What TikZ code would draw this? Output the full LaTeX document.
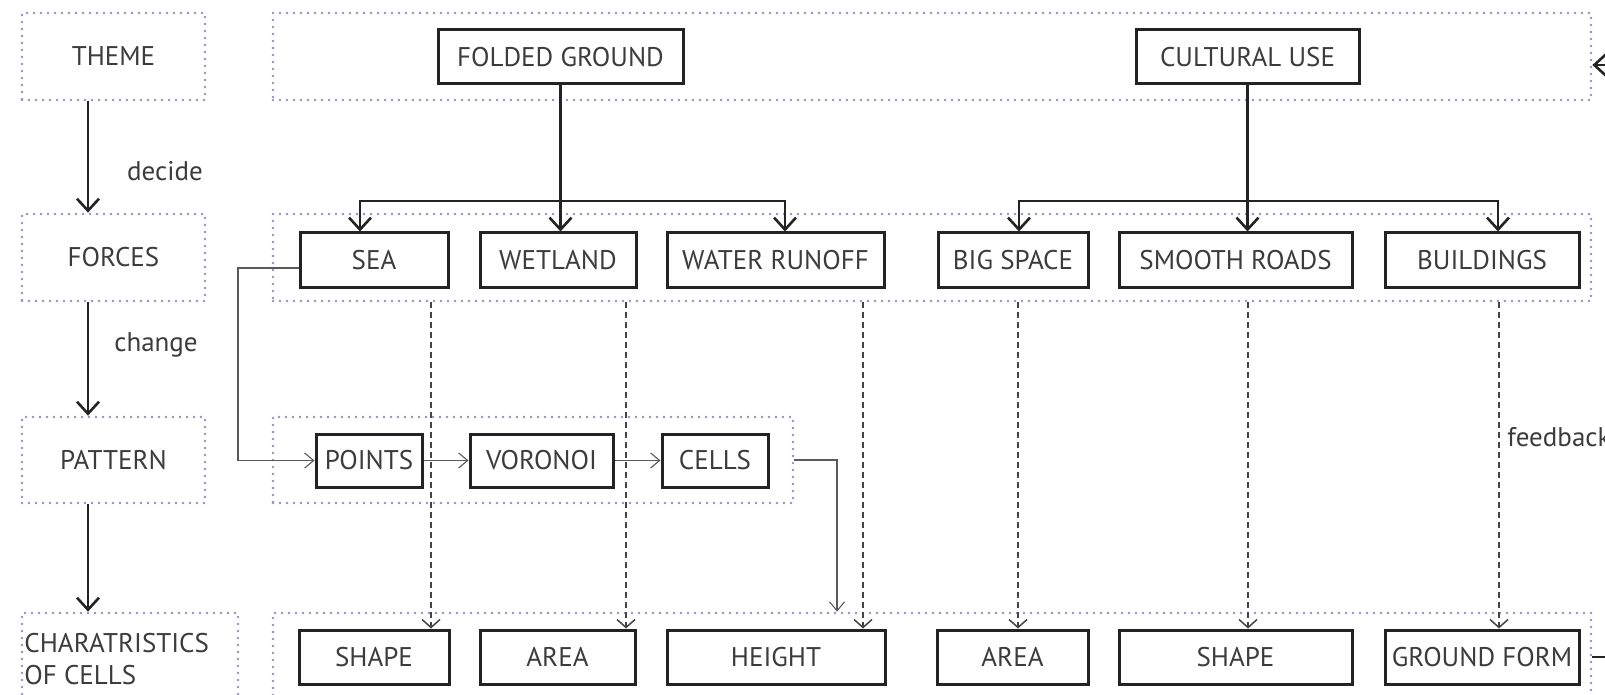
\documentclass[tikz,border=0pt]{standalone}
\usepackage{fontspec}
\setmainfont{PT Sans}
\usetikzlibrary{arrows.meta}
\definecolor{txt}{HTML}{3C3C3C}
\definecolor{dotc}{HTML}{958FC2}
\definecolor{ln}{HTML}{232323}
\newcommand\mybox[6]{\node[box, minimum width={(#4-#2)*0.5pt}, minimum height={(#5-#3)*0.5pt}] (#1) at ({(#2+#4)/2},{(#3+#5)/2}) {#6};}
\newcommand\myframe[6]{\node[frame, minimum width={(#4-#2)*0.5pt}, minimum height={(#5-#3)*0.5pt}] (#1) at ({(#2+#4)/2},{(#3+#5)/2}) {#6};}
\begin{document}
\begin{tikzpicture}[x=0.5pt,y=-0.5pt, font=\fontsize{13.5}{16}\selectfont,
  box/.style={draw=ln, line width=1.5pt, text=txt, inner sep=0pt},
  frame/.style={draw=dotc, line width=1.35pt, line cap=round, dash pattern=on 0pt off 3.5pt, inner sep=0pt, text=txt},
  bigarr/.style={draw=ln, line width=1.3pt, -{Straight Barb[length=6pt,width=11pt]}},
  bigline/.style={draw=ln, line width=1.3pt},
  thinarr/.style={draw=ln!75, line width=0.55pt, -{Straight Barb[length=4.5pt,width=7.5pt]}},
  dasharr/.style={draw=ln!85, line width=0.75pt, dash pattern=on 3pt off 2pt, -{Straight Barb[length=4pt,width=9pt]}},
  lbl/.style={text=txt, inner sep=0pt}
]
\useasboundingbox (0,0) rectangle (1605,695);
\fill[white] (0,0) rectangle (1605,695);
\clip (0,0) rectangle (1605,695);

% left column frames
\myframe{theme}{22}{13}{205}{100}{THEME}
\myframe{forces}{22}{214}{205}{301}{FORCES}
\myframe{pattern}{22}{417}{205}{503}{PATTERN}
\myframe{chars}{22}{613}{238}{730}{}
\node[lbl, anchor=west, align=left] (charstxt) at (24,659) {CHARATRISTICS\\OF CELLS};

% right frames
\myframe{topF}{273}{13}{1591}{100}{}
\myframe{forF}{273}{214}{1591}{301}{}
\myframe{patF}{273}{417}{793}{503}{}
\myframe{chrF}{273}{613}{1591}{730}{}

% boxes
\mybox{fg}{438}{30}{683}{84}{FOLDED GROUND}
\mybox{cu}{1136}{30}{1359}{84}{CULTURAL USE}
\mybox{sea}{300}{233}{448}{287}{SEA}
\mybox{wet}{480}{233}{636}{287}{WETLAND}
\mybox{run}{667}{233}{884}{287}{WATER RUNOFF}
\mybox{big}{938}{233}{1088}{287}{BIG SPACE}
\mybox{smo}{1119}{233}{1352}{287}{SMOOTH ROADS}
\mybox{bui}{1385}{233}{1579}{287}{BUILDINGS}
\mybox{pts}{316}{434}{422}{487}{POINTS}
\mybox{vor}{470}{434}{613}{487}{VORONOI}
\mybox{cel}{662}{434}{768}{487}{CELLS}
\mybox{shpA}{299}{630}{449}{684}{SHAPE}
\mybox{arA}{480}{630}{635}{684}{AREA}
\mybox{hgt}{667}{630}{885}{684}{HEIGHT}
\mybox{arB}{937}{630}{1088}{684}{AREA}
\mybox{shpB}{1119}{630}{1352}{684}{SHAPE}
\mybox{gf}{1385}{630}{1579}{684}{GROUND FORM}

% helper coordinates
\coordinate (cx) at (88,0);
\coordinate (busy) at (0,201);
\coordinate (a1) at (360,0);
\coordinate (a3) at (785,0);
\coordinate (b1) at (1019,0);
\coordinate (b3) at (1498,0);
\coordinate (lx) at (238,0);
\coordinate (c1) at (837,0);
\coordinate (d1) at (431,0);
\coordinate (d2) at (626,0);
\coordinate (d3) at (863,0);
\coordinate (d4) at (1018,0);
\coordinate (d5) at (1248,0);
\coordinate (d6) at (1499,0);
\coordinate (off) at (1640,0);
\coordinate (fy) at (0,65);

% left column arrows
\draw[bigarr] (theme.south -| cx) -- (forces.north -| cx);
\draw[bigarr] (forces.south -| cx) -- (pattern.north -| cx);
\draw[bigarr] (pattern.south -| cx) -- (chars.north -| cx);
\node[lbl] (decide) at (165,171) {decide};
\node[lbl] (change) at (156,345) {change};

% theme to forces
\draw[bigarr] (fg.south) -- (fg.south |- wet.north);
\draw[bigarr] (fg.south |- busy) -| (sea.north -| a1);
\draw[bigarr] (fg.south |- busy) -| (run.north -| a3);
\draw[bigarr] (cu.south) -- (cu.south |- smo.north);
\draw[bigarr] (cu.south |- busy) -| (big.north -| b1);
\draw[bigarr] (cu.south |- busy) -| (bui.north -| b3);

% pattern chain
\draw[thinarr] ([yshift=-4pt]sea.west) -| (lx |- pts.west) -- (pts.west);
\draw[thinarr] (pts) -- (vor);
\draw[thinarr] (vor) -- (cel);
\draw[thinarr] (patF.east) -| (chrF.north -| c1);

% dashed forces -> characteristics
\draw[dasharr] (forF.south -| d1) -- (shpA.north -| d1);
\draw[dasharr] (forF.south -| d2) -- (arA.north -| d2);
\draw[dasharr] (forF.south -| d3) -- (hgt.north -| d3);
\draw[dasharr] (forF.south -| d4) -- (arB.north -| d4);
\draw[dasharr] (forF.south -| d5) -- (shpB.north -| d5);
\draw[dasharr] (forF.south -| d6) -- (gf.north -| d6);

% feedback
\node[lbl, anchor=west] (fb) at (1507,437) {feedback};
\draw[bigarr] (off |- fy) -- (topF.east |- fy);
\draw[bigline] (chrF.east |- gf.east) -- (off |- gf.east);
\end{tikzpicture}
\end{document}
